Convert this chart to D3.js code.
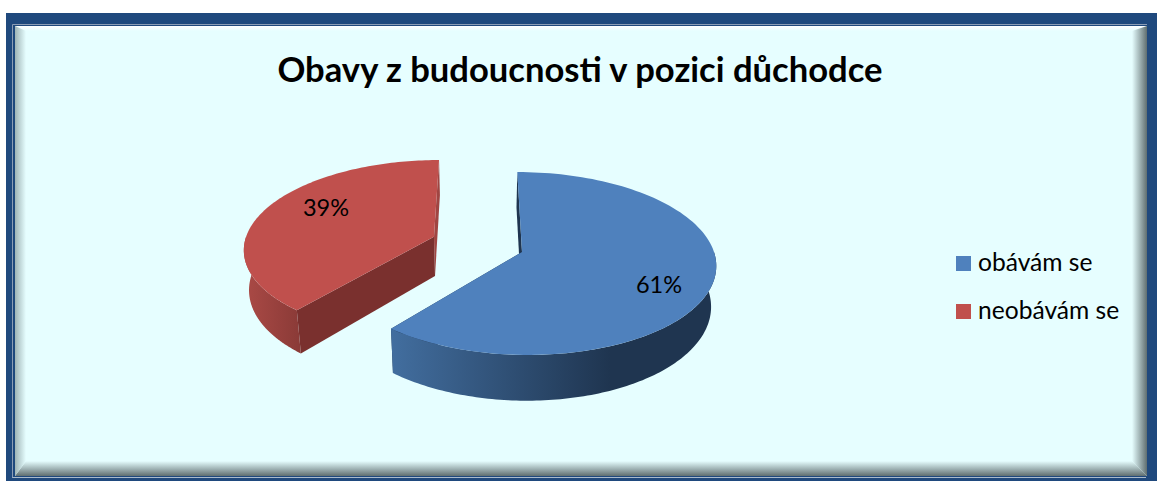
<!DOCTYPE html>
<html><head><meta charset="utf-8">
<script src="https://cdn.jsdelivr.net/npm/d3@7"></script>
<style>html,body{margin:0;padding:0;background:#fff}svg{display:block}text{font-family:Lato,"Open Sans",sans-serif;fill:#000}</style>
</head><body><svg id="chart" width="1157" height="481"></svg>
<script>
const titleText = "Obavy z budoucnosti v pozici důchodce";
const categories = ["obávám se", "neobávám se"];
const shares = [61, 39];
const topColors = ["#4f81bd", "#c0504d"];
const wallStops = [["#426e9f", "#1f3550"], ["#ab4a46", "#8a3a37"]];
const frontCutColors = ["#1f3550", "#7a302e"];
const backCutColors = ["#1f3550", "#a04542"];

const svg = d3.select("#chart");
const W = 1157, H = 481;

// frame: dark blue band, thin rules, then a bevelled panel
svg.append("rect").attr("x", 6).attr("y", 13).attr("width", W - 6).attr("height", H - 13).attr("fill", "#1f497d");
const rule = d3.line();
svg.append("path").attr("d", rule([[12.5, 478], [12.5, 24.5], [1147, 24.5]])).attr("fill", "none").attr("stroke", "#8c9db5");
svg.append("path").attr("d", rule([[12.5, 477.5], [1146, 477.5]])).attr("fill", "none").attr("stroke", "#a9bacb");
const panel = {x0: 15, y0: 26, x1: 1147, y1: 476};
svg.append("rect").attr("x", panel.x0).attr("y", panel.y0).attr("width", panel.x1 - panel.x0).attr("height", panel.y1 - panel.y0).attr("fill", "#e6feff");

const defs = svg.append("defs");
function ramp(id, x1, y1, x2, y2, stops) {
  const g = defs.append("linearGradient").attr("id", id).attr("x1", x1).attr("y1", y1).attr("x2", x2).attr("y2", y2);
  stops.forEach(s => g.append("stop").attr("offset", s[0]).attr("stop-color", s[1]));
}
ramp("bevL", 0, 0, 1, 0, [[0, "#9fb4b6"], [1, "#e6feff"]]);
ramp("bevR", 1, 0, 0, 0, [[0, "#5f6e70"], [1, "#e6feff"]]);
ramp("bevT", 0, 0, 0, 1, [[0, "#ffffff"], [1, "#e6feff"]]);
ramp("bevB", 0, 1, 0, 0, [[0, "#5f6e70"], [1, "#e6feff"]]);
const bevel = {l: 11, r: 15, t: 5, b: 15};
const {x0, y0, x1, y1} = panel;
const ix0 = x0 + bevel.l, ix1 = x1 - bevel.r, iy0 = y0 + bevel.t, iy1 = y1 - bevel.b;
[
  ["bevT", [[x0, y0], [x1, y0], [ix1, iy0], [ix0, iy0]]],
  ["bevB", [[x0, y1], [x1, y1], [ix1, iy1], [ix0, iy1]]],
  ["bevL", [[x0, y0], [ix0, iy0], [ix0, iy1], [x0, y1]]],
  ["bevR", [[x1, y0], [ix1, iy0], [ix1, iy1], [x1, y1]]]
].forEach(([id, pts]) => svg.append("path").attr("d", rule(pts) + "Z").attr("fill", `url(#${id})`));

// pie slices laid out by d3.pie, clockwise from the back of the disc
const slices = d3.pie().sort(null).startAngle(0).endAngle(2 * Math.PI)(shares);

// perspective: world coordinates are shrunk toward a vanishing point as they recede
const vanishX = 480, baseY = 252, radiusX = 192, radiusZ = 90, persp = 0.1257;
const depth = 40, lowerScale = 0.978;
const explode = [{dx: 42, dz: 0}, {dx: -47, dz: -0.172}];
function project(wx, wz, lower) {
  const w = 1 / (1 - persp * wz);
  const s = lower ? lowerScale : 1;
  return [vanishX + wx * w * s, baseY + radiusZ * wz * w + (lower ? depth * w : 0)];
}
function rim(i, a, lower) {
  const e = explode[i];
  return project(e.dx + radiusX * Math.sin(a), e.dz - Math.cos(a), lower);
}
function apex(i, lower) {
  return project(explode[i].dx, explode[i].dz, lower);
}
function arcPoints(i, a0, a1, lower) {
  return d3.range(0, 121).map(k => rim(i, a0 + (a1 - a0) * k / 120, lower));
}
const poly = d3.line();

slices.forEach((d, i) => {
  const g = svg.append("g");
  // cut faces: the one on the far end, then the one facing the viewer
  const cuts = i === 0 ? [[d.startAngle, backCutColors[i]], [d.endAngle, frontCutColors[i]]]
                       : [[d.endAngle, backCutColors[i]], [d.startAngle, frontCutColors[i]]];
  cuts.forEach(([a, c]) => {
    g.append("path").attr("d", poly([apex(i), rim(i, a), rim(i, a, true), apex(i, true)]) + "Z").attr("fill", c);
  });
  // outer wall, shaded across its visible width
  const front0 = Math.max(d.startAngle, Math.PI / 2), front1 = Math.min(d.endAngle, 1.5 * Math.PI);
  const top = arcPoints(i, front0, front1, false), bottom = arcPoints(i, front0, front1, true);
  const xs = top.concat(bottom).map(p => p[0]);
  const id = "wall" + i;
  const g0 = defs.append("linearGradient").attr("id", id).attr("gradientUnits", "userSpaceOnUse")
    .attr("x1", d3.min(xs)).attr("x2", i === 0 ? 610 : d3.max(xs)).attr("y1", 0).attr("y2", 0);
  wallStops[i].forEach((c, k) => g0.append("stop").attr("offset", k).attr("stop-color", c));
  g.append("path").attr("d", poly(top.concat(bottom.reverse())) + "Z").attr("fill", `url(#${id})`);
  // top face
  g.append("path").attr("d", poly([apex(i)].concat(arcPoints(i, d.startAngle, d.endAngle, false))) + "Z").attr("fill", topColors[i]);
});

// title
svg.append("text").attr("x", 580).attr("y", 82).attr("text-anchor", "middle")
  .attr("font-size", 34.6).attr("font-weight", 700).text(titleText);

// value labels
const labelAt = [[659, 293], [326, 216]];
slices.forEach((d, i) => {
  svg.append("text").attr("x", labelAt[i][0]).attr("y", labelAt[i][1]).attr("text-anchor", "middle")
    .attr("font-size", 23.5).text(shares[i] + "%");
});

// legend
const legendY = d3.scalePoint().domain(categories).range([264, 312]);
categories.forEach((c, i) => {
  svg.append("rect").attr("x", 956).attr("y", legendY(c) - 8).attr("width", 15).attr("height", 15).attr("fill", topColors[i]);
  svg.append("text").attr("x", 978).attr("y", legendY(c) + 6.5).attr("font-size", 24.6).text(c);
});
</script></body></html>
